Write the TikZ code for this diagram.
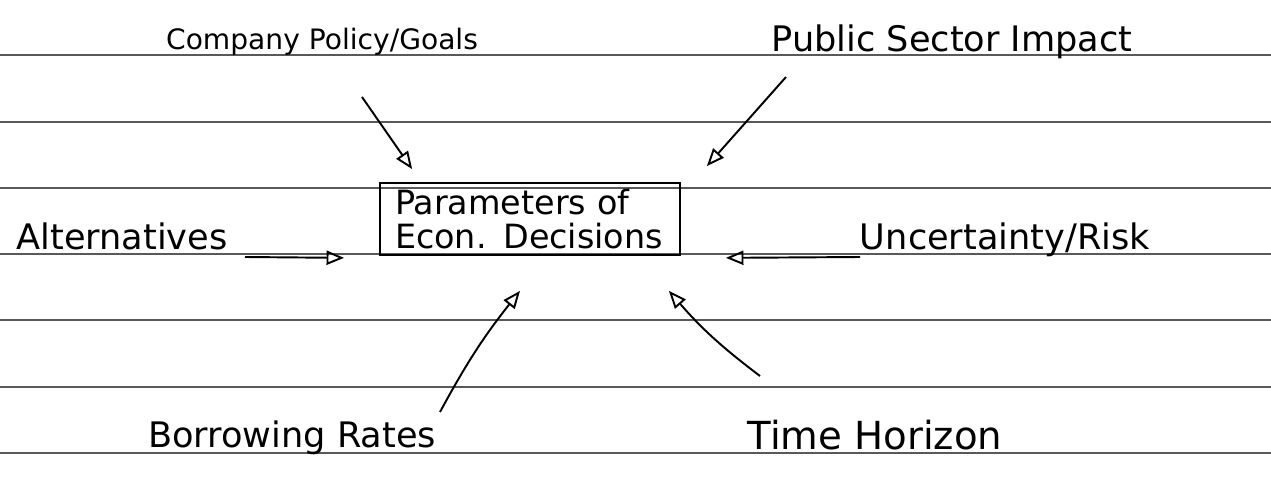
\documentclass[tikz,border=0pt]{standalone}
\usepackage{fontspec}
\setmainfont{DejaVu Sans}
\usetikzlibrary{arrows.meta,calc}

\tikzset{
  ruling/.style={black!65, line width=0.6pt},
  hand/.style={inner sep=0pt, anchor=base},
  pointer/.style={line width=1.1pt, -{Triangle[open, length=10pt, width=8pt, line width=1.1pt]}},
  parambox/.style={draw, line width=1pt, minimum width=60mm, minimum height=14.4mm,
    text width=54mm, align=left, inner xsep=2.6mm, inner ysep=1mm},
}
\newcommand{\fsz}[1]{\fontsize{#1}{1.1\dimexpr#1pt\relax}\selectfont}

\begin{document}
\begin{tikzpicture}[x=0.2mm, y=-0.2mm]
\useasboundingbox (0,0) rectangle (1271,496);
\fill[white] (0,0) rectangle (1271,496);

% ruled paper
\foreach \y in {55,122,188,254,320,387,453}
  \draw[ruling] (0,\y) -- (1271,\y);

% centre box
\node[parambox, font=\fontsize{19}{19}\selectfont] (param) at (530,219)
  {Parameters of\\Econ. Decisions};

% the six influences
\node[hand, font=\fsz{16}] (policy) at (322,50) {Company Policy/Goals};
\node[hand, font=\fsz{20}] (impact) at (952,52) {Public Sector Impact};
\node[hand, font=\fsz{20}] (alt) at (122,250) {Alternatives};
\node[hand, font=\fsz{20}] (risk) at (1005,250) {Uncertainty/Risk};
\node[hand, font=\fsz{20}] (borrow) at (292,447) {Borrowing Rates};
\node[hand, font=\fsz{22}] (horizon) at (875,450) {Time Horizon};

% arrow ends
\coordinate (policy-tail) at (362,97);
\coordinate (impact-tail) at (786,77);
\coordinate (alt-tail) at (245,257);
\coordinate (risk-tail) at (860,257);
\coordinate (borrow-tail) at (440,412);
\coordinate (horizon-tail) at (760,376);

\coordinate (policy-tip) at ($(param.north west)+(33,-13)$);
\coordinate (impact-tip) at ($(param.north east)+(26,-16)$);
\coordinate (alt-tip) at ($(param.south west)+(-35,2)$);
\coordinate (risk-tip) at ($(param.south east)+(45,2)$);
\coordinate (borrow-tip) at ($(param.south)+(-10,35)$);
\coordinate (horizon-tip) at ($(param.south east)+(-12,35)$);

\draw[pointer] (policy-tail) -- (policy-tip);
\draw[pointer] (impact-tail) -- (impact-tip);
\draw[pointer] (alt-tail) -- (alt-tip);
\draw[pointer] (risk-tail) -- (risk-tip);
\draw[pointer] (borrow-tail) to[bend left=5] (borrow-tip);
\draw[pointer] (horizon-tail) to[bend left=6] (horizon-tip);
\end{tikzpicture}
\end{document}
